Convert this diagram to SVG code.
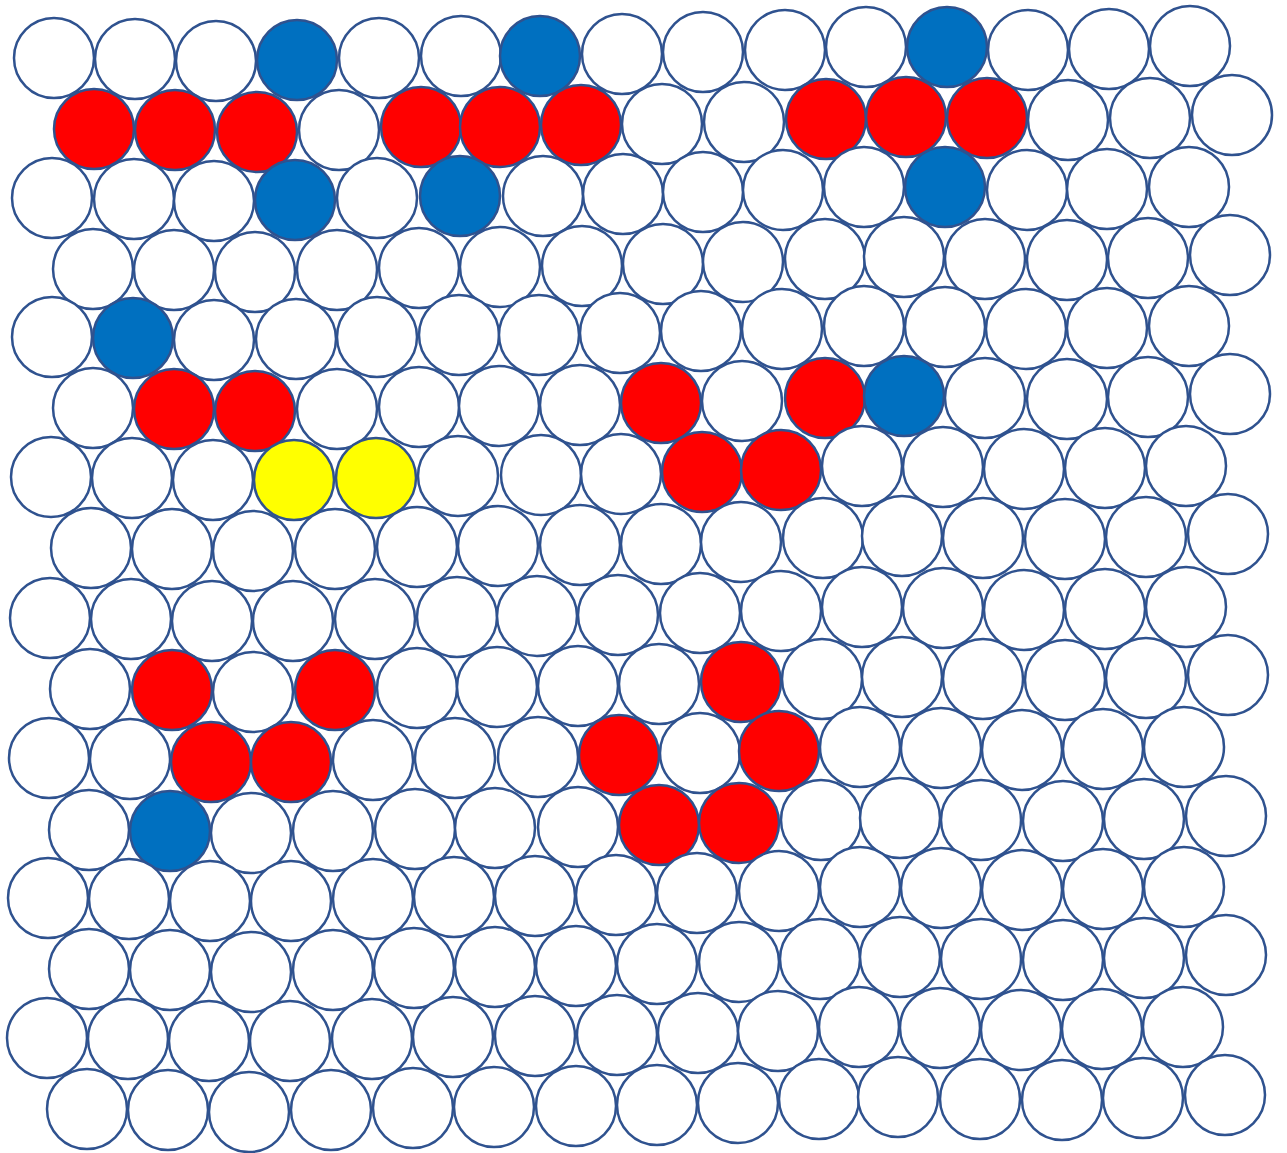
<svg xmlns="http://www.w3.org/2000/svg" width="1287" height="1153" viewBox="0 0 1287 1153">
<style>
circle{stroke:#2F528F;stroke-width:2.5;fill:#FFFFFF}
.b{fill:#0070C0}
.r{fill:#FF0000}
.y{fill:#FFFF00}
</style>
<rect width="1287" height="1153" fill="#FFFFFF"/>
<g id="row0">
<circle id="c0_0" cx="54" cy="58" r="40"/><circle id="c0_1" cx="135" cy="59" r="40"/><circle id="c0_2" cx="216" cy="61" r="40"/><circle id="c0_3" class="b" cx="297" cy="60" r="40"/><circle id="c0_4" cx="379" cy="58" r="40"/><circle id="c0_5" cx="461" cy="56" r="40"/><circle id="c0_6" class="b" cx="540" cy="56" r="40"/><circle id="c0_7" cx="622" cy="54" r="40"/><circle id="c0_8" cx="703" cy="52" r="40"/><circle id="c0_9" cx="785" cy="50" r="40"/><circle id="c0_10" cx="866" cy="47" r="40"/><circle id="c0_11" class="b" cx="947" cy="47" r="40"/><circle id="c0_12" cx="1028" cy="50" r="40"/><circle id="c0_13" cx="1109" cy="49" r="40"/><circle id="c0_14" cx="1190" cy="46" r="40"/>
</g>
<g id="row1">
<circle id="c1_0" class="r" cx="94" cy="129" r="40"/><circle id="c1_1" class="r" cx="175" cy="130" r="40"/><circle id="c1_2" class="r" cx="257" cy="132" r="40"/><circle id="c1_3" cx="339" cy="130" r="40"/><circle id="c1_4" class="r" cx="421" cy="127" r="40"/><circle id="c1_5" class="r" cx="500" cy="127" r="40"/><circle id="c1_6" class="r" cx="581" cy="125" r="40"/><circle id="c1_7" cx="662" cy="124" r="40"/><circle id="c1_8" cx="744" cy="122" r="40"/><circle id="c1_9" class="r" cx="826" cy="119" r="40"/><circle id="c1_10" class="r" cx="906" cy="117" r="40"/><circle id="c1_11" class="r" cx="987" cy="118" r="40"/><circle id="c1_12" cx="1068" cy="120" r="40"/><circle id="c1_13" cx="1150" cy="118" r="40"/><circle id="c1_14" cx="1232" cy="115" r="40"/>
</g>
<g id="row2">
<circle id="c2_0" cx="52" cy="198" r="40"/><circle id="c2_1" cx="134" cy="199" r="40"/><circle id="c2_2" cx="214" cy="201" r="40"/><circle id="c2_3" class="b" cx="295" cy="200" r="40"/><circle id="c2_4" cx="377" cy="198" r="40"/><circle id="c2_5" class="b" cx="460" cy="196" r="40"/><circle id="c2_6" cx="543" cy="196" r="40"/><circle id="c2_7" cx="623" cy="194" r="40"/><circle id="c2_8" cx="703" cy="192" r="40"/><circle id="c2_9" cx="783" cy="190" r="40"/><circle id="c2_10" cx="864" cy="187" r="40"/><circle id="c2_11" class="b" cx="945" cy="187" r="40"/><circle id="c2_12" cx="1027" cy="190" r="40"/><circle id="c2_13" cx="1107" cy="189" r="40"/><circle id="c2_14" cx="1189" cy="187" r="40"/>
</g>
<g id="row3">
<circle id="c3_0" cx="93" cy="269" r="40"/><circle id="c3_1" cx="174" cy="270" r="40"/><circle id="c3_2" cx="255" cy="272" r="40"/><circle id="c3_3" cx="337" cy="270" r="40"/><circle id="c3_4" cx="419" cy="268" r="40"/><circle id="c3_5" cx="500" cy="267" r="40"/><circle id="c3_6" cx="582" cy="266" r="40"/><circle id="c3_7" cx="663" cy="264" r="40"/><circle id="c3_8" cx="743" cy="262" r="40"/><circle id="c3_9" cx="825" cy="259" r="40"/><circle id="c3_10" cx="904" cy="257" r="40"/><circle id="c3_11" cx="985" cy="259" r="40"/><circle id="c3_12" cx="1067" cy="260" r="40"/><circle id="c3_13" cx="1148" cy="258" r="40"/><circle id="c3_14" cx="1230" cy="255" r="40"/>
</g>
<g id="row4">
<circle id="c4_0" cx="52" cy="337" r="40"/><circle id="c4_1" class="b" cx="133" cy="338" r="40"/><circle id="c4_2" cx="214" cy="340" r="40"/><circle id="c4_3" cx="296" cy="339" r="40"/><circle id="c4_4" cx="377" cy="337" r="40"/><circle id="c4_5" cx="459" cy="335" r="40"/><circle id="c4_6" cx="539" cy="335" r="40"/><circle id="c4_7" cx="620" cy="333" r="40"/><circle id="c4_8" cx="701" cy="331" r="40"/><circle id="c4_9" cx="782" cy="329" r="40"/><circle id="c4_10" cx="864" cy="326" r="40"/><circle id="c4_11" cx="945" cy="327" r="40"/><circle id="c4_12" cx="1026" cy="329" r="40"/><circle id="c4_13" cx="1107" cy="328" r="40"/><circle id="c4_14" cx="1189" cy="326" r="40"/>
</g>
<g id="row5">
<circle id="c5_0" cx="93" cy="408" r="40"/><circle id="c5_1" class="r" cx="174" cy="409" r="40"/><circle id="c5_2" class="r" cx="255" cy="411" r="40"/><circle id="c5_3" cx="337" cy="409" r="40"/><circle id="c5_4" cx="419" cy="407" r="40"/><circle id="c5_5" cx="499" cy="406" r="40"/><circle id="c5_6" cx="580" cy="405" r="40"/><circle id="c5_7" class="r" cx="661" cy="403" r="40"/><circle id="c5_8" cx="742" cy="401" r="40"/><circle id="c5_9" class="r" cx="825" cy="398" r="40"/><circle id="c5_10" class="b" cx="904" cy="396" r="40"/><circle id="c5_11" cx="985" cy="398" r="40"/><circle id="c5_12" cx="1067" cy="399" r="40"/><circle id="c5_13" cx="1148" cy="397" r="40"/><circle id="c5_14" cx="1230" cy="394" r="40"/>
</g>
<g id="row6">
<circle id="c6_0" cx="51" cy="477" r="40"/><circle id="c6_1" cx="132" cy="478" r="40"/><circle id="c6_2" cx="213" cy="480" r="40"/><circle id="c6_3" class="y" cx="294" cy="480" r="40"/><circle id="c6_4" class="y" cx="376" cy="478" r="40"/><circle id="c6_5" cx="458" cy="476" r="40"/><circle id="c6_6" cx="541" cy="475" r="40"/><circle id="c6_7" cx="621" cy="474" r="40"/><circle id="c6_8" class="r" cx="702" cy="472" r="40"/><circle id="c6_9" class="r" cx="781" cy="470" r="40"/><circle id="c6_10" cx="862" cy="466" r="40"/><circle id="c6_11" cx="943" cy="467" r="40"/><circle id="c6_12" cx="1024" cy="469" r="40"/><circle id="c6_13" cx="1105" cy="468" r="40"/><circle id="c6_14" cx="1186" cy="466" r="40"/>
</g>
<g id="row7">
<circle id="c7_0" cx="91" cy="548" r="40"/><circle id="c7_1" cx="172" cy="549" r="40"/><circle id="c7_2" cx="253" cy="551" r="40"/><circle id="c7_3" cx="335" cy="549" r="40"/><circle id="c7_4" cx="417" cy="547" r="40"/><circle id="c7_5" cx="498" cy="546" r="40"/><circle id="c7_6" cx="580" cy="545" r="40"/><circle id="c7_7" cx="661" cy="544" r="40"/><circle id="c7_8" cx="741" cy="542" r="40"/><circle id="c7_9" cx="823" cy="538" r="40"/><circle id="c7_10" cx="902" cy="536" r="40"/><circle id="c7_11" cx="983" cy="538" r="40"/><circle id="c7_12" cx="1065" cy="539" r="40"/><circle id="c7_13" cx="1146" cy="537" r="40"/><circle id="c7_14" cx="1228" cy="534" r="40"/>
</g>
<g id="row8">
<circle id="c8_0" cx="50" cy="618" r="40"/><circle id="c8_1" cx="131" cy="619" r="40"/><circle id="c8_2" cx="212" cy="621" r="40"/><circle id="c8_3" cx="293" cy="621" r="40"/><circle id="c8_4" cx="375" cy="619" r="40"/><circle id="c8_5" cx="457" cy="617" r="40"/><circle id="c8_6" cx="537" cy="616" r="40"/><circle id="c8_7" cx="618" cy="615" r="40"/><circle id="c8_8" cx="700" cy="613" r="40"/><circle id="c8_9" cx="781" cy="611" r="40"/><circle id="c8_10" cx="862" cy="607" r="40"/><circle id="c8_11" cx="943" cy="608" r="40"/><circle id="c8_12" cx="1024" cy="610" r="40"/><circle id="c8_13" cx="1105" cy="609" r="40"/><circle id="c8_14" cx="1186" cy="607" r="40"/>
</g>
<g id="row9">
<circle id="c9_0" cx="90" cy="689" r="40"/><circle id="c9_1" class="r" cx="172" cy="690" r="40"/><circle id="c9_2" cx="253" cy="692" r="40"/><circle id="c9_3" class="r" cx="335" cy="690" r="40"/><circle id="c9_4" cx="417" cy="688" r="40"/><circle id="c9_5" cx="497" cy="687" r="40"/><circle id="c9_6" cx="578" cy="686" r="40"/><circle id="c9_7" cx="659" cy="684" r="40"/><circle id="c9_8" class="r" cx="741" cy="682" r="40"/><circle id="c9_9" cx="822" cy="679" r="40"/><circle id="c9_10" cx="902" cy="677" r="40"/><circle id="c9_11" cx="983" cy="679" r="40"/><circle id="c9_12" cx="1065" cy="680" r="40"/><circle id="c9_13" cx="1146" cy="678" r="40"/><circle id="c9_14" cx="1228" cy="675" r="40"/>
</g>
<g id="row10">
<circle id="c10_0" cx="49" cy="758" r="40"/><circle id="c10_1" cx="130" cy="759" r="40"/><circle id="c10_2" class="r" cx="211" cy="762" r="40"/><circle id="c10_3" class="r" cx="291" cy="762" r="40"/><circle id="c10_4" cx="373" cy="760" r="40"/><circle id="c10_5" cx="455" cy="758" r="40"/><circle id="c10_6" cx="538" cy="757" r="40"/><circle id="c10_7" class="r" cx="619" cy="755" r="40"/><circle id="c10_8" cx="700" cy="753" r="40"/><circle id="c10_9" class="r" cx="779" cy="751" r="40"/><circle id="c10_10" cx="860" cy="747" r="40"/><circle id="c10_11" cx="941" cy="748" r="40"/><circle id="c10_12" cx="1022" cy="750" r="40"/><circle id="c10_13" cx="1103" cy="749" r="40"/><circle id="c10_14" cx="1184" cy="747" r="40"/>
</g>
<g id="row11">
<circle id="c11_0" cx="89" cy="830" r="40"/><circle id="c11_1" class="b" cx="170" cy="831" r="40"/><circle id="c11_2" cx="251" cy="833" r="40"/><circle id="c11_3" cx="333" cy="831" r="40"/><circle id="c11_4" cx="415" cy="829" r="40"/><circle id="c11_5" cx="495" cy="828" r="40"/><circle id="c11_6" cx="578" cy="827" r="40"/><circle id="c11_7" class="r" cx="659" cy="825" r="40"/><circle id="c11_8" class="r" cx="739" cy="823" r="40"/><circle id="c11_9" cx="821" cy="820" r="40"/><circle id="c11_10" cx="900" cy="818" r="40"/><circle id="c11_11" cx="981" cy="820" r="40"/><circle id="c11_12" cx="1063" cy="821" r="40"/><circle id="c11_13" cx="1144" cy="819" r="40"/><circle id="c11_14" cx="1226" cy="816" r="40"/>
</g>
<g id="row12">
<circle id="c12_0" cx="48" cy="898" r="40"/><circle id="c12_1" cx="129" cy="899" r="40"/><circle id="c12_2" cx="210" cy="901" r="40"/><circle id="c12_3" cx="291" cy="901" r="40"/><circle id="c12_4" cx="373" cy="899" r="40"/><circle id="c12_5" cx="454" cy="897" r="40"/><circle id="c12_6" cx="535" cy="896" r="40"/><circle id="c12_7" cx="616" cy="895" r="40"/><circle id="c12_8" cx="697" cy="893" r="40"/><circle id="c12_9" cx="779" cy="891" r="40"/><circle id="c12_10" cx="860" cy="887" r="40"/><circle id="c12_11" cx="941" cy="888" r="40"/><circle id="c12_12" cx="1022" cy="890" r="40"/><circle id="c12_13" cx="1103" cy="889" r="40"/><circle id="c12_14" cx="1184" cy="887" r="40"/>
</g>
<g id="row13">
<circle id="c13_0" cx="89" cy="969" r="40"/><circle id="c13_1" cx="170" cy="970" r="40"/><circle id="c13_2" cx="251" cy="972" r="40"/><circle id="c13_3" cx="333" cy="970" r="40"/><circle id="c13_4" cx="414" cy="968" r="40"/><circle id="c13_5" cx="495" cy="967" r="40"/><circle id="c13_6" cx="576" cy="966" r="40"/><circle id="c13_7" cx="657" cy="964" r="40"/><circle id="c13_8" cx="739" cy="962" r="40"/><circle id="c13_9" cx="820" cy="959" r="40"/><circle id="c13_10" cx="900" cy="957" r="40"/><circle id="c13_11" cx="981" cy="959" r="40"/><circle id="c13_12" cx="1063" cy="960" r="40"/><circle id="c13_13" cx="1144" cy="958" r="40"/><circle id="c13_14" cx="1226" cy="955" r="40"/>
</g>
<g id="row14">
<circle id="c14_0" cx="47" cy="1038" r="40"/><circle id="c14_1" cx="128" cy="1039" r="40"/><circle id="c14_2" cx="209" cy="1041" r="40"/><circle id="c14_3" cx="290" cy="1041" r="40"/><circle id="c14_4" cx="372" cy="1039" r="40"/><circle id="c14_5" cx="453" cy="1037" r="40"/><circle id="c14_6" cx="535" cy="1036" r="40"/><circle id="c14_7" cx="617" cy="1035" r="40"/><circle id="c14_8" cx="698" cy="1033" r="40"/><circle id="c14_9" cx="778" cy="1031" r="40"/><circle id="c14_10" cx="859" cy="1027" r="40"/><circle id="c14_11" cx="940" cy="1028" r="40"/><circle id="c14_12" cx="1021" cy="1030" r="40"/><circle id="c14_13" cx="1102" cy="1029" r="40"/><circle id="c14_14" cx="1183" cy="1027" r="40"/>
</g>
<g id="row15">
<circle id="c15_0" cx="87" cy="1109" r="40"/><circle id="c15_1" cx="168" cy="1110" r="40"/><circle id="c15_2" cx="249" cy="1112" r="40"/><circle id="c15_3" cx="331" cy="1110" r="40"/><circle id="c15_4" cx="413" cy="1108" r="40"/><circle id="c15_5" cx="494" cy="1107" r="40"/><circle id="c15_6" cx="576" cy="1106" r="40"/><circle id="c15_7" cx="657" cy="1105" r="40"/><circle id="c15_8" cx="738" cy="1103" r="40"/><circle id="c15_9" cx="819" cy="1099" r="40"/><circle id="c15_10" cx="898" cy="1097" r="40"/><circle id="c15_11" cx="980" cy="1099" r="40"/><circle id="c15_12" cx="1062" cy="1100" r="40"/><circle id="c15_13" cx="1143" cy="1098" r="40"/><circle id="c15_14" cx="1225" cy="1095" r="40"/>
</g>
<g id="connectors"/>
</svg>
